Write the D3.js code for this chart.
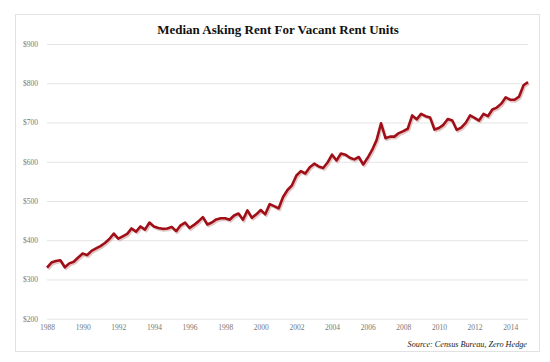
<!DOCTYPE html>
<html>
<head>
<meta charset="utf-8">
<script src="https://cdn.jsdelivr.net/npm/d3@7"></script>
<style>
  body { margin: 0; background: #fff; }
  svg { display: block; }
</style>
</head>
<body>
<svg id="chart" width="550" height="362"></svg>
<script>
// quarterly median asking rent, 1988 Q1 .. 2015 Q1
const startYear = 1988
const rent = [
  330, 343, 347, 349, 331, 341, 345, 356, 366, 362, 373, 379, 385, 393, 403, 417,
  404, 410, 416, 430, 422, 435, 427, 445, 435, 431, 429, 430, 434, 423, 438, 445,
  431, 439, 448, 459, 440, 445, 453, 456, 456, 452, 463, 468, 452, 476, 457, 466,
  477, 466, 492, 487, 481, 510, 528, 540, 565, 576, 570, 586, 595, 588, 584, 598,
  618, 603, 621, 618, 610, 606, 612, 593, 610, 630, 655, 698, 660, 664, 664, 673,
  678, 684, 718, 708, 722, 716, 713, 682, 686, 694, 709, 705, 681, 687, 699, 718,
  712, 705, 722, 716, 733, 738, 748, 764, 758, 758, 766, 795, 803
]
const yTicks = [200, 300, 400, 500, 600, 700, 800, 900]
const xTicks = [1988, 1990, 1992, 1994, 1996, 1998, 2000, 2002, 2004, 2006, 2008, 2010, 2012, 2014]
const title = 'Median Asking Rent For Vacant Rent Units'
const source = 'Source: Census Bureau, Zero Hedge'

const points = rent.map((v, i) => ({t: startYear + i / 4, v}))

const svg = d3.select('#chart')
const x = d3.scaleLinear().domain([1988, 2015]).range([47, 528])
const y = d3.scaleLinear().domain([200, 900]).range([318.7, 44])

// outer frame
svg.append('rect')
  .attr('x', 15.5).attr('y', 14.5).attr('width', 524).attr('height', 337)
  .attr('fill', '#fff').attr('stroke', '#e2e2e2')

// title, squeezed to the width seen in the picture
const t = svg.append('text')
  .attr('x', 278).attr('y', 33.5)
  .attr('text-anchor', 'middle')
  .attr('font-family', '"Liberation Serif", "DejaVu Serif", serif')
  .attr('font-weight', 'bold')
  .attr('font-size', 14)
  .attr('fill', '#111')
  .text(title)
const tw = t.node().getComputedTextLength()
t.attr('font-size', 14 * 242 / tw)

// gridlines + y labels
const yAxis = d3.axisLeft(y).tickValues(yTicks).tickSize(-(x.range()[1] - x.range()[0]))
  .tickFormat(d => '$' + d).tickPadding(9)
const gy = svg.append('g').attr('transform', `translate(${x.range()[0]},0)`).call(yAxis)
gy.select('.domain').remove()
gy.selectAll('.tick line').attr('stroke', '#e4e4e4').attr('stroke-width', 1)
gy.selectAll('.tick text')
  .attr('fill', '#777')
  .attr('font-family', '"Liberation Serif", serif')
  .attr('font-size', 7.5)

// x labels
const xAxis = d3.axisBottom(x).tickValues(xTicks).tickSize(0).tickFormat(d3.format('d')).tickPadding(6)
const gx = svg.append('g').attr('transform', `translate(0,${y(200)})`).call(xAxis)
gx.select('.domain').remove()
gx.selectAll('.tick text')
  .attr('fill', '#777')
  .attr('font-family', '"Liberation Serif", serif')
  .attr('font-size', 7.5)

const line = d3.line().x(d => x(d.t)).y(d => y(d.v))

// soft shadow under the line
svg.append('path')
  .datum(points)
  .attr('d', line)
  .attr('transform', 'translate(1.2,1.6)')
  .attr('fill', 'none')
  .attr('stroke', '#d9b8b8')
  .attr('stroke-width', 2.6)
  .attr('stroke-linejoin', 'round')
  .attr('opacity', 0.8)

svg.append('path')
  .datum(points)
  .attr('d', line)
  .attr('fill', 'none')
  .attr('stroke', '#a00f18')
  .attr('stroke-width', 2.6)
  .attr('stroke-linejoin', 'round')

// source note
svg.append('text')
  .attr('x', 527).attr('y', 347)
  .attr('text-anchor', 'end')
  .attr('font-family', '"Liberation Serif", serif')
  .attr('font-style', 'italic')
  .attr('font-size', 8.2)
  .attr('fill', '#222')
  .text(source)
</script>
</body>
</html>
